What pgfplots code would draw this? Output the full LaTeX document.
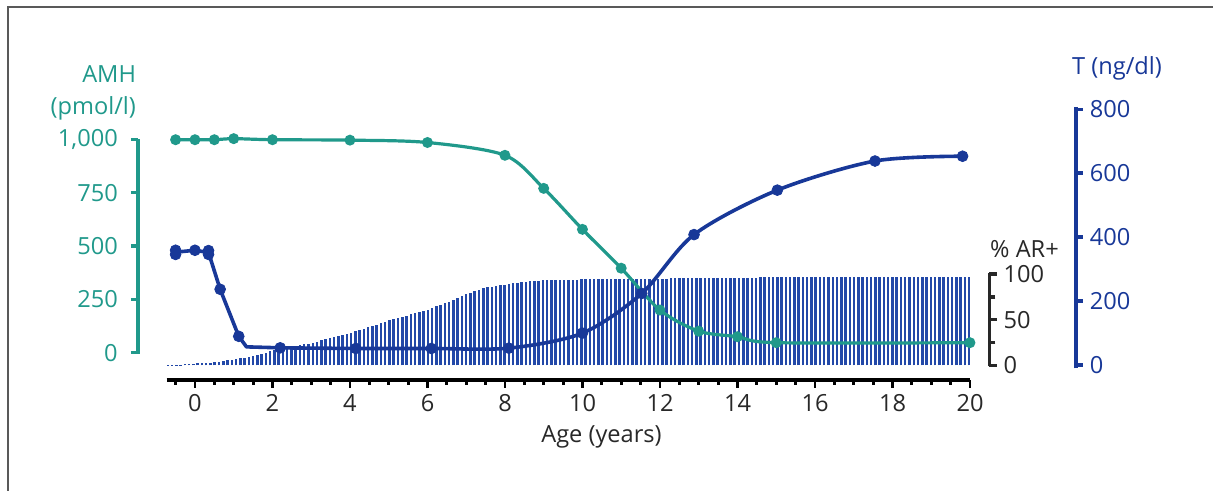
\documentclass[border=0pt]{standalone}
\usepackage{fontspec}
\setmainfont{Open Sans}
\usepackage{pgfplots}
\pgfplotsset{compat=1.18}
\definecolor{teal1}{RGB}{32,153,139}
\definecolor{navy1}{RGB}{24,56,152}
\definecolor{barblue}{RGB}{34,72,168}
\definecolor{dgray}{RGB}{40,40,40}
\newcommand\lab{\fontsize{11.8}{14}\selectfont}
\begin{document}
\begin{tikzpicture}[x=0.5pt,y=0.5pt]
\pgfplotsset{
  base/.style={scale only axis, clip=false, xmin=-1.47, xmax=22.73, width=468.85pt,
    axis x line=none, tick align=outside, major tick length=3.6pt, minor tick length=3pt,
    tick style={line width=1.7pt, line cap=butt},
    axis line style={line width=1.8pt},
    ticklabel style={font=\lab},
    /pgf/number format/assume math mode=true},
}
% frame
\draw[line width=1pt, color=black!65] (8,0) -- (8,484) -- (1213,484);

% bars (% AR+)
\begin{axis}[base, xmax=20.5, width=425.65pt, at={(69pt,62.25pt)}, anchor=south west,
  height=46.9pt, ymin=-1.1, ymax=101.4, axis y line*=right,
  ytick={0,50,100}, yticklabels={0,50,100}, minor ytick={25,75},
  y axis line style={dgray}, ytick style={dgray},
  yticklabel style={dgray}]
\addplot[barblue, ycomb, line width=1.25pt, mark=none] coordinates {
(-0.70,0.5)(-0.59,0.6)(-0.48,0.8)(-0.37,0.9)(-0.26,1.1)(-0.15,1.5)(-0.04,1.9)(0.07,2.2)(0.18,2.5)(0.29,2.9)
(0.40,3.2)(0.51,3.6)(0.62,4.2)(0.73,4.9)(0.84,5.5)(0.95,6.2)(1.06,6.9)(1.17,7.9)(1.28,8.7)(1.39,9.6)
(1.50,10.5)(1.61,11.7)(1.72,12.9)(1.83,14.1)(1.94,15.3)(2.05,16.5)(2.16,17.6)(2.27,18.7)(2.38,19.8)(2.49,20.9)
(2.60,21.7)(2.71,22.5)(2.82,23.2)(2.93,24.0)(3.04,24.9)(3.15,26.2)(3.26,27.4)(3.37,28.6)(3.48,29.8)(3.59,31.0)
(3.70,32.2)(3.81,33.4)(3.92,34.6)(4.03,35.9)(4.14,37.3)(4.25,38.7)(4.36,40.2)(4.47,41.6)(4.58,43.1)(4.69,44.6)
(4.80,46.1)(4.91,47.7)(5.02,49.2)(5.13,50.6)(5.24,51.9)(5.35,53.2)(5.46,54.5)(5.57,55.8)(5.68,57.1)(5.79,58.5)
(5.90,59.8)(6.01,61.1)(6.12,62.8)(6.23,64.5)(6.34,66.1)(6.45,67.8)(6.56,69.6)(6.67,71.7)(6.78,73.8)(6.89,75.9)
(7.00,78.0)(7.11,79.5)(7.22,81.1)(7.33,82.6)(7.44,84.2)(7.55,85.4)(7.66,86.1)(7.77,86.9)(7.88,87.7)(7.99,88.4)
(8.10,89.1)(8.21,89.8)(8.32,90.4)(8.43,91.1)(8.54,91.6)(8.65,92.0)(8.76,92.3)(8.87,92.6)(8.98,92.9)(9.09,93.2)
(9.20,93.3)(9.31,93.4)(9.42,93.6)(9.53,93.7)(9.64,93.8)(9.75,93.8)(9.86,93.9)(9.97,94.0)(10.08,94.0)(10.19,94.1)
(10.30,94.1)(10.41,94.2)(10.52,94.2)(10.63,94.3)(10.74,94.3)(10.85,94.4)(10.96,94.4)(11.07,94.5)(11.18,94.5)(11.29,94.6)
(11.40,94.6)(11.51,94.7)(11.62,94.7)(11.73,94.8)(11.84,94.8)(11.95,94.9)(12.06,95.0)(12.17,95.0)(12.28,95.1)(12.39,95.1)
(12.50,95.2)(12.61,95.2)(12.72,95.3)(12.83,95.3)(12.94,95.4)(13.05,95.5)(13.16,95.5)(13.27,95.6)(13.38,95.6)(13.49,95.7)
(13.60,95.7)(13.71,95.8)(13.82,95.8)(13.93,95.9)(14.04,96.0)(14.15,96.0)(14.26,96.0)(14.37,96.1)(14.48,96.1)(14.59,96.2)
(14.70,96.2)(14.81,96.2)(14.92,96.3)(15.03,96.3)(15.14,96.3)(15.25,96.4)(15.36,96.4)(15.47,96.4)(15.58,96.5)(15.69,96.5)
(15.80,96.5)(15.91,96.6)(16.02,96.6)(16.13,96.6)(16.24,96.6)(16.35,96.7)(16.46,96.7)(16.57,96.7)(16.68,96.7)(16.79,96.8)
(16.90,96.8)(17.01,96.8)(17.12,96.8)(17.23,96.8)(17.34,96.9)(17.45,96.9)(17.56,96.9)(17.67,96.9)(17.78,96.9)(17.89,97.0)
(18.00,97.0)(18.11,97.0)(18.22,97.0)(18.33,97.0)(18.44,97.0)(18.55,97.0)(18.66,97.0)(18.77,97.0)(18.88,97.0)(18.99,97.0)
(19.10,97.0)(19.21,97.0)(19.32,97.0)(19.43,97.0)(19.54,97.0)(19.65,97.0)(19.76,97.0)(19.87,97.0)(19.98,97.0)
};
\end{axis}

% AMH
\begin{axis}[base, at={(69pt,68.5pt)}, anchor=south west, height=107.35pt,
  ymin=-6, ymax=1000, axis y line*=left,
  ytick={0,250,500,750,1000}, yticklabels={0,250,500,750,{1,000}},
  yticklabel style={xshift=-3pt},
  y axis line style={teal1}, ytick style={teal1}, yticklabel style={teal1}]
\addplot[teal1, line width=1.6pt, smooth, mark=*, mark size=1.9pt] coordinates {
(-0.5,998)(0,998)(0.5,998)(1,1003)(2,998)(4,996)(6,985)(8,925)(9,770)(10,578)(11,396)(12,200)(13,101)(14,75)(15,47)(20,47)
};
\end{axis}

% T
\begin{axis}[base, at={(69pt,61.35pt)}, anchor=south west, height=130.5pt,
  ymin=-10, ymax=806, axis y line*=right,
  ytick={0,200,400,600,800}, yticklabels={0,200,400,600,800},
  y axis line style={navy1}, ytick style={navy1}, yticklabel style={navy1}]
\addplot[navy1, line width=1.8pt, line join=round] coordinates {
(-0.5,353)(0,359)(0.35,352)(0.65,237)(1.13,90)(1.33,57)(2.2,54)
};
\addplot[navy1, line width=1.8pt, smooth] coordinates {
(2.2,54)(4.15,52)(6.1,52)(8.1,53)(10.0,100)(11.53,224)(12.88,408)(15.03,547)(17.55,638)(19.81,653)
};
\addplot[navy1, only marks, mark=*, mark size=2.7pt] coordinates {
(-0.5,359)(-0.5,346)(0,359)(0.35,358)(0.35,346)(0.65,237)(1.13,90)(2.2,54)(4.15,52)(6.1,52)(8.1,53)(10.0,100)(11.53,224)(12.88,408)(15.03,547)(17.55,638)(19.81,653)
};
\end{axis}

% x axis
\begin{axis}[scale only axis, clip=false, at={(83.35pt,55.5pt)}, anchor=south west,
  width=401.65pt, height=10pt, xmin=-0.73, xmax=20, ymin=0, ymax=1,
  axis y line=none, axis x line*=bottom,
  xtick={0,2,...,20}, xticklabels={0,2,4,6,8,10,12,14,16,18,20},
  minor xtick={-0.5,0,...,20},
  tick align=outside, major tick length=3.8pt, minor tick length=2.3pt,
  tick style={line width=1.4pt, black, line cap=butt},
  axis line style={line width=1.8pt, black},
  xticklabel style={font=\lab, dgray}]
\end{axis}

\node[anchor=base east, teal1, font=\lab] at (143,408) {AMH};
\node[anchor=base east, teal1, font=\lab] at (143,376) {(pmol/l)};
\node[anchor=base, navy1, font=\lab] at (1117,416) {T (ng/dl)};
\node[anchor=base, dgray, font=\lab] at (1024.5,233) {\% AR+};
\node[anchor=base, dgray, font=\lab] at (601.5,48) {Age (years)};

\pgfresetboundingbox
\useasboundingbox (0,0) rectangle (1213,491);
\end{tikzpicture}
\end{document}
